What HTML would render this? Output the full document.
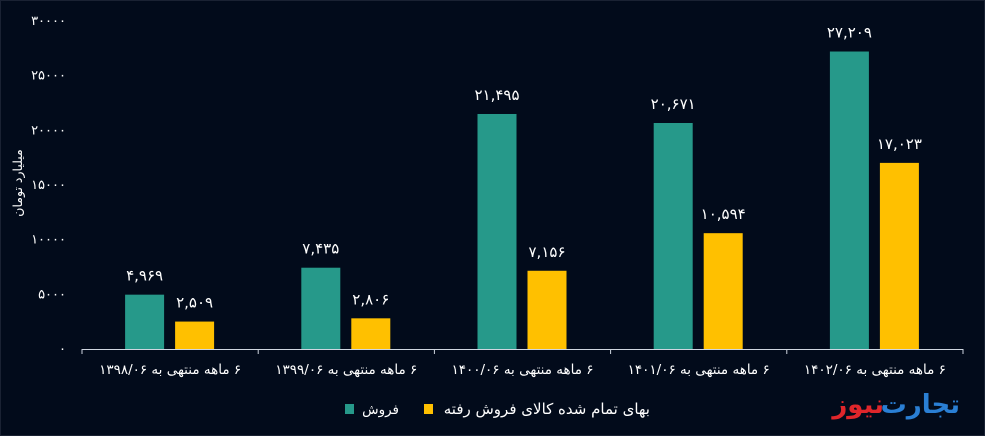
<!DOCTYPE html>
<html><head><meta charset="utf-8">
<style>
html,body{margin:0;padding:0;background:#020b1b;}
svg{display:block;font-family:"DejaVu Sans","Liberation Sans",sans-serif;}
.rtl{direction:rtl;unicode-bidi:embed;}
</style></head>
<body>
<svg id="chart" width="985" height="436" viewBox="0 0 985 436" xmlns="http://www.w3.org/2000/svg">
<rect x="0.5" y="0.5" width="984" height="435" fill="#020b1b" stroke="#1a2233"/>
<g id="grid"></g>
<g id="bars"></g>
<text class="rtl" direction="rtl" transform="translate(22,183) rotate(-90)" text-anchor="middle" fill="#fff" font-size="12.5">میلیارد تومان</text>
<g>
<rect x="345" y="404" width="9" height="10" fill="#26998a"/>
<text class="rtl" direction="rtl" x="399" y="414" text-anchor="start" fill="#fff" font-size="13.5">فروش</text>
<rect x="424" y="404" width="9" height="10" fill="#ffc000"/>
<text class="rtl" direction="rtl" x="650" y="414" text-anchor="start" fill="#fff" font-size="15">بهای تمام شده کالای فروش رفته</text>
</g>
<g font-weight="bold" font-size="26">
<text class="rtl" direction="rtl" x="960" y="413" text-anchor="start" fill="#2a7fd4">تجارت</text>
<text class="rtl" direction="rtl" x="884" y="413" text-anchor="start" fill="#e0262b">نیوز</text>
</g>
</svg>
<script>
const categories=["۶ ماهه منتهی به ۱۳۹۸/۰۶","۶ ماهه منتهی به ۱۳۹۹/۰۶","۶ ماهه منتهی به ۱۴۰۰/۰۶","۶ ماهه منتهی به ۱۴۰۱/۰۶","۶ ماهه منتهی به ۱۴۰۲/۰۶"];
const sales=[4969,7435,21495,20671,27209];
const cost=[2509,2806,7156,10594,17023];
const salesLabels=["۴,۹۶۹","۷,۴۳۵","۲۱,۴۹۵","۲۰,۶۷۱","۲۷,۲۰۹"];
const costLabels=["۲,۵۰۹","۲,۸۰۶","۷,۱۵۶","۱۰,۵۹۴","۱۷,۰۲۳"];
const yTicks=[0,5000,10000,15000,20000,25000,30000];
const yTickLabels=["۰","۵۰۰۰","۱۰۰۰۰","۱۵۰۰۰","۲۰۰۰۰","۲۵۰۰۰","۳۰۰۰۰"];

const NS="http://www.w3.org/2000/svg";
const x0=82,x1=963,y0=349,yTop=21,yMax=30000;
const bw=(x1-x0)/categories.length;
const y=v=>y0-(v/yMax)*(y0-yTop);
const cx=i=>x0+bw*(i+0.5);
function mk(tag,attrs,parent){const e=document.createElementNS(NS,tag);for(const k in attrs)e.setAttribute(k,attrs[k]);parent.appendChild(e);return e;}
const grid=document.getElementById('grid'),bars=document.getElementById('bars');
yTicks.forEach((t,i)=>{
  const tx=mk('text',{x:66,y:y(t)+4,'text-anchor':'end',fill:'#fff','font-size':13},grid);
  
  
  tx.textContent=yTickLabels[i];
});
const ax=mk('line',{x1:x0,y1:y0+0.5,x2:x1,y2:y0+0.5,stroke:'#cfd6e0','stroke-width':1},grid);


for(let i=0;i<=categories.length;i++){
  const tk=mk('line',{x1:x0+bw*i,y1:y0,x2:x0+bw*i,y2:y0+5,stroke:'#cfd6e0'},grid);
  
  
}
categories.forEach((c,i)=>{
  const lt=mk('text',{x:cx(i),y:374,'text-anchor':'middle',fill:'#fff','font-size':13.5,direction:'rtl','class':'rtl'},grid);
  
  
  lt.textContent=c;
  const w=39;
  const gs=mk('rect',{x:cx(i)-45,y:y(sales[i]),width:w,height:y0-y(sales[i]),fill:'#26998a'},bars);
  
  
  const gc=mk('rect',{x:cx(i)+5,y:y(cost[i]),width:w,height:y0-y(cost[i]),fill:'#ffc000'},bars);
  
  
  const l1=mk('text',{x:cx(i)-25.5,y:y(sales[i])-14,'text-anchor':'middle',fill:'#fff','font-size':15},bars);
  
  
  l1.textContent=salesLabels[i];
  const l2=mk('text',{x:cx(i)+24.5,y:y(cost[i])-14,'text-anchor':'middle',fill:'#fff','font-size':15},bars);
  
  
  l2.textContent=costLabels[i];
});
</script>
</body></html>
